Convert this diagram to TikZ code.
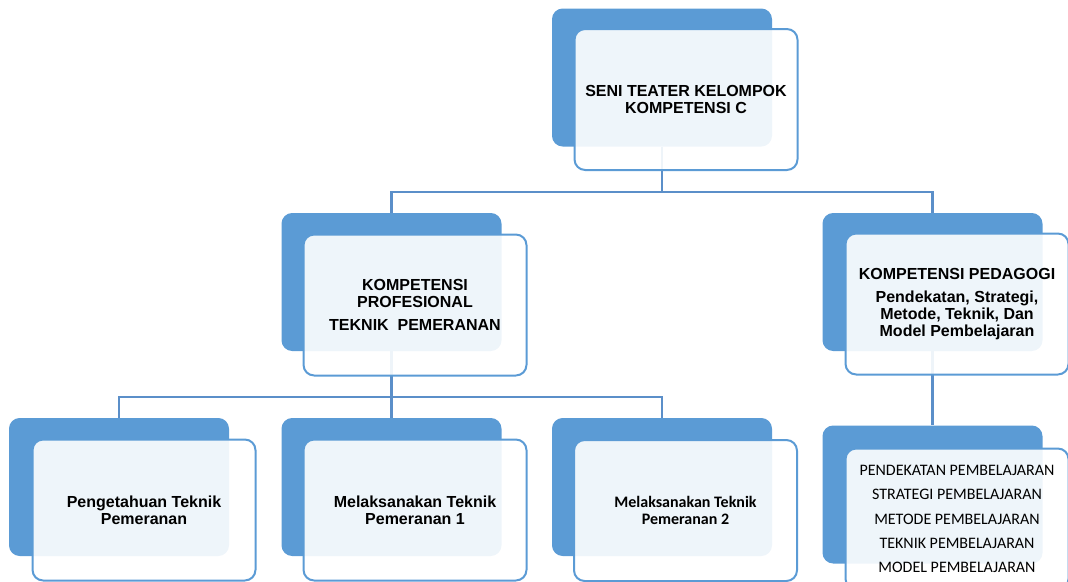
\documentclass[tikz,border=0pt]{standalone}
\usepackage{fontspec}
\setmainfont{Liberation Sans}
\newfontfamily\calibri{Carlito}
\pgfdeclarelayer{bg}
\pgfsetlayers{bg,main}
\definecolor{oblue}{HTML}{5B9BD5}
\definecolor{lineblue}{HTML}{5B8FC9}
\begin{document}
\begin{tikzpicture}[x=0.75pt,y=-0.75pt,
  back/.style={fill=oblue, rounded corners=8pt, minimum width=165pt, minimum height=103.5pt, inner sep=0pt},
  front/.style={draw=oblue, line width=1.5pt, fill=white, fill opacity=0.9, text opacity=1,
    rounded corners=8pt, minimum width=167.25pt, minimum height=105.75pt, align=center,
    inner sep=0pt, text=black, font=\bfseries\fontsize{12}{12.75}\selectfont},
  listfont/.style={font=\calibri\mdseries\fontsize{12}{18.2}\selectfont},
  calfont/.style={font=\calibri\bfseries\fontsize{12}{12.75}\selectfont},
  link/.style={draw=lineblue, line width=1.6pt}]
\useasboundingbox (0,0) rectangle (1068,582);
\clip (0,0) rectangle (1068,582);
% back boxes
\node[back] (top) at (662,77.5) {};
\node[back] (ml) at (391.5,282) {};
\node[back] (mr) at (932.5,282) {};
\node[back] (b1) at (119,487) {};
\node[back] (b2) at (391.5,487) {};
\node[back] (b3) at (662,487) {};
\node[back] (br) at (932.5,494.5) {};
% connectors
\begin{pgfonlayer}{bg}
\draw[link] (top.south) -- ++(0,45) -| (ml.north);
\draw[link] (top.south) -- ++(0,45) -| (mr.north);
\draw[link] (ml.south) -- ++(0,46) -| (b1.north);
\draw[link] (ml.south) -- ++(0,46) -| (b2.north);
\draw[link] (ml.south) -- ++(0,46) -| (b3.north);
\draw[link] (mr.south) -- (br.north);
\end{pgfonlayer}
% front boxes
\node[front] (topf) at (686,99.5) {SENI TEATER KELOMPOK\\KOMPETENSI C};
\node[front] (mlf) at (415,305) {KOMPETENSI\\PROFESIONAL\\[4.5pt]TEKNIK\ \ PEMERANAN};
\node[front] (mrf) at (957,304) {KOMPETENSI PEDAGOGI\\[4.5pt]Pendekatan, Strategi,\\Metode, Teknik, Dan\\Model Pembelajaran};
\node[front] (b1f) at (144,510) {Pengetahuan Teknik\\Pemeranan};
\node[front] (b2f) at (415,510) {Melaksanakan Teknik\\Pemeranan 1};
\node[front, calfont] (b3f) at (685.5,510.5) {Melaksanakan Teknik\\Pemeranan 2};
\node[front, listfont] (brf) at (957,519) {PENDEKATAN PEMBELAJARAN\\STRATEGI PEMBELAJARAN\\METODE PEMBELAJARAN\\TEKNIK PEMBELAJARAN\\MODEL PEMBELAJARAN};
\end{tikzpicture}
\end{document}
